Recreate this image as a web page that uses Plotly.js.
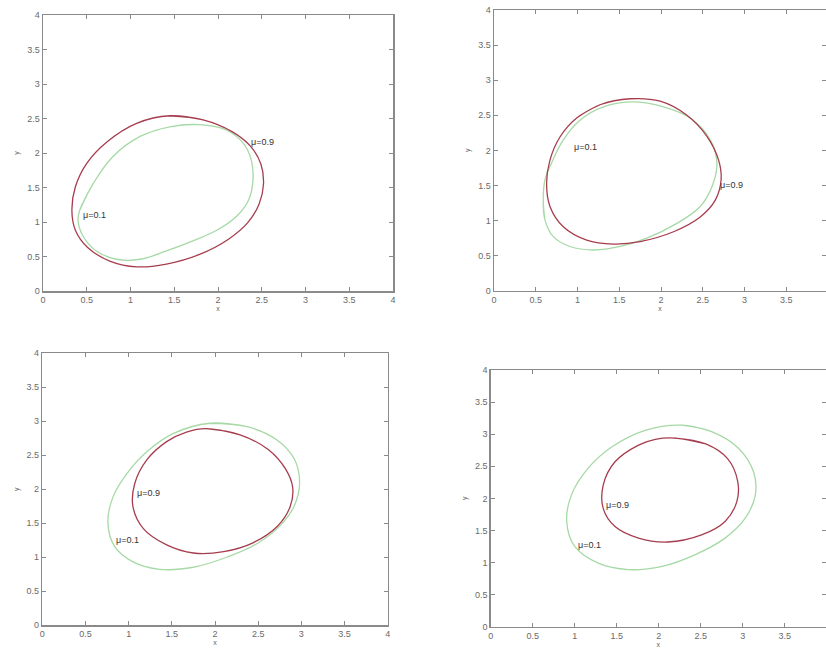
<!DOCTYPE html>
<html><head><meta charset="utf-8">
<script src="https://cdn.plot.ly/plotly-3.0.1.min.js"></script>
<style>html,body{margin:0;padding:0;background:#fff}#chart{width:826px;height:649px}</style>
</head><body><div id="chart"></div>
<script>
// tick values and labels
var tickVals = [0,0.5,1,1.5,2,2.5,3,3.5,4];
var tickText = ['0','0.5','1','1.5','2','2.5','3','3.5','4'];

// Panel 1 (top-left)
var red1X = [1.45,1.83,2.16,2.37,2.49,2.52,2.47,2.34,2.12,1.79,1.41,1.07,0.77,0.51,0.37,0.33,0.37,0.50,0.73,1.07];
var red1Y = [2.54,2.48,2.31,2.10,1.84,1.55,1.26,0.99,0.75,0.53,0.39,0.35,0.43,0.63,0.88,1.17,1.51,1.85,2.16,2.43];
var green1X = [0.42,0.575,0.80,1.11,1.45,1.79,2.10,2.29,2.38,2.40,2.35,2.21,1.985,1.72,1.41,1.11,0.84,0.61,0.46,0.40];
var green1Y = [1.17,1.56,1.95,2.24,2.38,2.41,2.33,2.14,1.90,1.61,1.32,1.08,0.88,0.73,0.58,0.46,0.46,0.58,0.79,1.03];

// Panel 2 (top-right)
var red2X = [0.99,1.27,1.63,1.99,2.31,2.55,2.69,2.72,2.65,2.47,2.15,1.75,1.43,1.11,0.83,0.67,0.63,0.67,0.79];
var red2Y = [2.46,2.65,2.735,2.70,2.50,2.20,1.86,1.58,1.29,1.05,0.84,0.70,0.665,0.72,0.91,1.20,1.53,1.86,2.19];
var green2X = [0.59,0.61,0.71,0.91,1.19,1.51,1.83,2.19,2.47,2.61,2.67,2.59,2.35,2.03,1.67,1.31,1.03,0.83,0.69,0.61];
var green2Y = [1.29,1.01,0.77,0.63,0.58,0.63,0.75,0.96,1.20,1.48,1.82,2.15,2.46,2.62,2.69,2.62,2.43,2.15,1.82,1.58];

// Panel 3 (bottom-left)
var red3X = [1.90,2.29,2.62,2.82,2.90,2.87,2.72,2.44,2.10,1.75,1.44,1.17,1.05,1.07,1.21,1.44,1.67];
var red3Y = [2.89,2.80,2.58,2.29,2.02,1.74,1.45,1.21,1.08,1.06,1.18,1.42,1.74,2.08,2.43,2.70,2.84];
var green3X = [1.94,2.37,2.71,2.92,2.98,2.92,2.76,2.49,2.14,1.75,1.36,1.05,0.84,0.76,0.82,0.98,1.21,1.52];
var green3Y = [2.97,2.92,2.73,2.44,2.10,1.76,1.47,1.20,1.00,0.85,0.82,0.93,1.15,1.50,1.89,2.23,2.55,2.82];

// Panel 4 (bottom-right)
var red4X = [2.19,2.56,2.82,2.94,2.93,2.79,2.51,2.11,1.76,1.48,1.34,1.34,1.48,1.76,1.96];
var red4Y = [2.94,2.85,2.62,2.27,1.95,1.64,1.43,1.32,1.38,1.56,1.84,2.21,2.57,2.83,2.92];
var green4X = [2.27,2.63,2.95,3.13,3.15,3.03,2.79,2.43,2.04,1.64,1.28,1.00,0.905,0.96,1.16,1.44,1.84];
var green4Y = [3.14,3.04,2.78,2.41,2.05,1.69,1.38,1.12,0.94,0.89,0.99,1.25,1.64,2.05,2.47,2.80,3.06];

// Labels per panel: [text, x, y]
var labels1 = [['μ=0.9',2.35,2.16],['μ=0.1',0.43,1.10]];
var labels2 = [['μ=0.1',0.93,2.05],['μ=0.9',2.68,1.50]];
var labels3 = [['μ=0.9',1.07,1.94],['μ=0.1',0.83,1.25]];
var labels4 = [['μ=0.9',1.35,1.90],['μ=0.1',1.01,1.28]];

var RED = '#a63d4e', GREEN = '#a6d9a6';
function closed(a){ return a.concat([a[0], a[1]]); }
function curve(xs, ys, color, n){
  var s = n === 1 ? '' : String(n);
  return {type:'scatter', mode:'lines', x:closed(xs), y:closed(ys), xaxis:'x'+s, yaxis:'y'+s,
    line:{color:color, width:1.3, shape:'spline', smoothing:1.1}, hoverinfo:'skip', showlegend:false};
}
var data = [
  curve(green1X, green1Y, GREEN, 1), curve(red1X, red1Y, RED, 1),
  curve(green2X, green2Y, GREEN, 2), curve(red2X, red2Y, RED, 2),
  curve(green3X, green3Y, GREEN, 3), curve(red3X, red3Y, RED, 3),
  curve(green4X, green4Y, GREEN, 4), curve(red4X, red4Y, RED, 4)
];

var W = 826, H = 649;
function ax(domain, range, titleText, isY){
  return {domain:domain, range:range, tickvals:tickVals, ticktext:tickText, tickmode:'array',
    showline:true, mirror:'ticks', linecolor:'#8a8a8a', linewidth:1.5, ticks:'inside', ticklen:4,
    tickcolor:'#8a8a8a', tickwidth:1, showgrid:false, zeroline:false,
    tickfont:{family:'Liberation Sans, Arial, sans-serif', size:9, color:'#6a6a6a'},
    title:{text:titleText, font:{family:'Liberation Sans, Arial, sans-serif', size:7, color:'#666'}, standoff: isY ? 6 : 2},
    fixedrange:true};
}
var layout = {
  width:W, height:H, margin:{l:0,r:0,t:0,b:0}, paper_bgcolor:'#fff', plot_bgcolor:'#fff', showlegend:false,
  xaxis:  ax([43/W, 393/W], [0,4], 'x', false),
  yaxis:  ax([1-291/H, 1-15/H], [0,4], 'y', true),
  xaxis2: ax([494/W, 1], [0, (W-494)/83.5], 'x', false),
  yaxis2: ax([1-290.7/H, 1-10/H], [0,4], 'y', true),
  xaxis3: ax([42.3/W, 387.7/W], [0,4], 'x', false),
  yaxis3: ax([1-625/H, 1-353.3/H], [0,4], 'y', true),
  xaxis4: ax([490.7/W, 1], [0, (W-490.7)/84], 'x', false),
  yaxis4: ax([1-626.7/H, 1-370/H], [0,4], 'y', true),
  annotations:[]
};
layout.xaxis.anchor='y'; layout.yaxis.anchor='x';
layout.xaxis2.anchor='y2'; layout.yaxis2.anchor='x2';
layout.xaxis3.anchor='y3'; layout.yaxis3.anchor='x3';
layout.xaxis4.anchor='y4'; layout.yaxis4.anchor='x4';
[labels1, labels2, labels3, labels4].forEach(function(lbls, i){
  var s = i === 0 ? '' : String(i+1);
  lbls.forEach(function(l){
    layout.annotations.push({text:l[0], x:l[1], y:l[2], xref:'x'+s, yref:'y'+s, showarrow:false,
      xanchor:'left', yanchor:'middle', font:{family:'Liberation Sans, Arial, sans-serif', size:9, color:'#333'}});
  });
});
Plotly.newPlot('chart', data, layout, {staticPlot:true, displayModeBar:false});
</script>
</body></html>
